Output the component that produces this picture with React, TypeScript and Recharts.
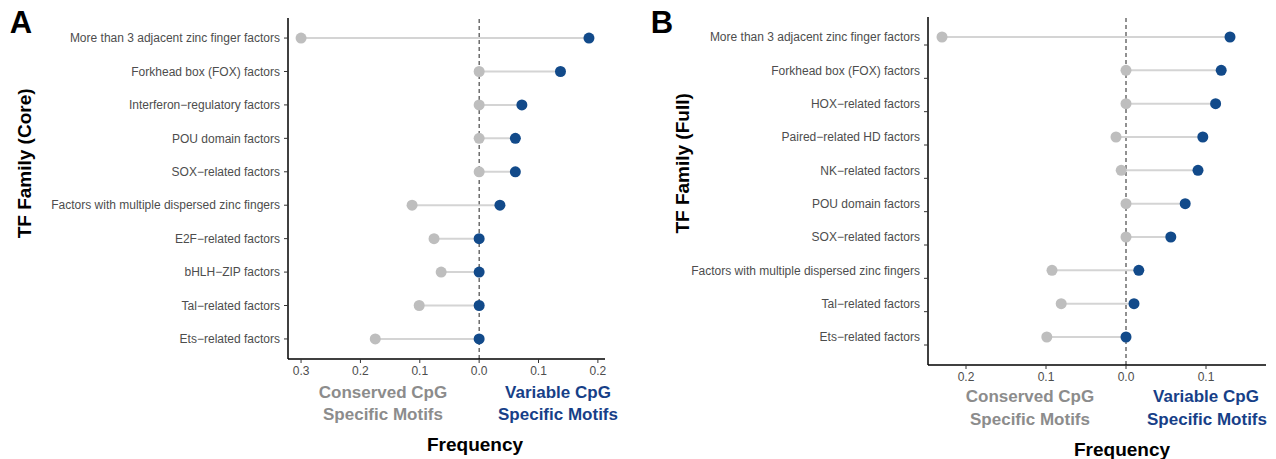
import { ReferenceLine, Scatter, ScatterChart, XAxis, YAxis } from 'recharts';
import type { CSSProperties, ReactNode } from 'react';

// Panel A: core TF families (frequency of motifs, conserved vs variable CpG)
const coreFamilies = [
  'More than 3 adjacent zinc finger factors',
  'Forkhead box (FOX) factors',
  'Interferon\u2212regulatory factors',
  'POU domain factors',
  'SOX\u2212related factors',
  'Factors with multiple dispersed zinc fingers',
  'E2F\u2212related factors',
  'bHLH\u2212ZIP factors',
  'Tal\u2212related factors',
  'Ets\u2212related factors',
];
const coreConserved = [0.3, 0, 0, 0, 0, 0.113, 0.076, 0.064, 0.101, 0.175];
const coreVariable = [0.185, 0.137, 0.072, 0.061, 0.061, 0.035, 0, 0, 0, 0];
const coreTicks = [-0.3, -0.2, -0.1, 0, 0.1, 0.2];

// Panel B: full TF families
const fullFamilies = [
  'More than 3 adjacent zinc finger factors',
  'Forkhead box (FOX) factors',
  'HOX\u2212related factors',
  'Paired\u2212related HD factors',
  'NK\u2212related factors',
  'POU domain factors',
  'SOX\u2212related factors',
  'Factors with multiple dispersed zinc fingers',
  'Tal\u2212related factors',
  'Ets\u2212related factors',
];
const fullConserved = [0.23, 0, 0, 0.0125, 0.006, 0, 0, 0.0925, 0.081, 0.099];
const fullVariable = [0.13, 0.119, 0.112, 0.096, 0.09, 0.074, 0.056, 0.016, 0.01, 0];
const fullTicks = [-0.2, -0.1, 0, 0.1];

const FONT = '"Liberation Sans", Arial, Helvetica, sans-serif';
const GREY_DOT = '#bebebe';
const BLUE_DOT = '#124a8a';
const SEGMENT = '#d4d4d4';
const CONSERVED_TEXT = '#8c8c8c';
const VARIABLE_TEXT = '#173f88';

interface PanelProps {
  families: string[];
  conserved: number[];
  variable: number[];
  ticks: number[];
  domain: [number, number];
  rowDomain: [number, number];
  width: number;
  marginTop: number;
  marginRight: number;
  marginBottom: number;
  tickShift?: number;
}

function LollipopPanel({
  families, conserved, variable, ticks, domain, rowDomain, width,
  marginTop, marginRight, marginBottom, tickShift = 0,
}: PanelProps) {
  const greyPoints = families.map((_, i) => ({ x: -conserved[i], y: i }));
  const bluePoints = families.map((_, i) => ({ x: variable[i], y: i }));
  const rowTicks = families.map((_, i) => i);

  return (
    <ScatterChart
      width={width}
      height={459}
      margin={{ top: marginTop, right: marginRight, bottom: marginBottom, left: 0 }}
    >
      <XAxis
        type="number"
        dataKey="x"
        domain={domain}
        ticks={ticks}
        allowDataOverflow
        tickFormatter={(v: number) => Math.abs(v).toFixed(1)}
        tick={{ fill: '#4d4d4d', fontSize: 12, fontFamily: FONT }}
        tickSize={4}
        tickMargin={3}
        axisLine={{ stroke: '#000', strokeWidth: 1.5 }}
        tickLine={{ stroke: '#333' }}
        height={30}
      />
      <YAxis
        type="number"
        dataKey="y"
        domain={rowDomain}
        ticks={rowTicks}
        interval={0}
        reversed
        allowDataOverflow
        width={288}
        tickFormatter={(i: number) => families[i] ?? ''}
        tick={{ fill: '#4d4d4d', fontSize: 12, fontFamily: FONT }}
        tickSize={4}
        tickMargin={4}
        axisLine={{ stroke: '#000', strokeWidth: 1.5 }}
        tickLine={{ stroke: '#333', transform: `translate(0,${tickShift})` }}
      />
      {families.map((name, i) => (
        <Scatter
          key={name}
          data={[greyPoints[i], bluePoints[i]]}
          line={{ stroke: SEGMENT, strokeWidth: 2 }}
          shape={() => <g />}
          isAnimationActive={false}
        />
      ))}
      <ReferenceLine x={0} stroke="#222" strokeDasharray="4 3" strokeWidth={1} />
      <Scatter data={greyPoints} fill={GREY_DOT} shape={(p: any) => <circle cx={p.cx} cy={p.cy} r={5.5} fill={GREY_DOT} />} isAnimationActive={false} />
      <Scatter data={bluePoints} fill={BLUE_DOT} shape={(p: any) => <circle cx={p.cx} cy={p.cy} r={5.5} fill={BLUE_DOT} />} isAnimationActive={false} />
    </ScatterChart>
  );
}

function Text({ x, y, children, size = 17, color = '#000', rotate = false }: {
  x: number; y: number; children: ReactNode; size?: number; color?: string; rotate?: boolean;
}) {
  const style: CSSProperties = {
    position: 'absolute',
    left: x - 150,
    top: y - size * 0.6,
    width: 300,
    textAlign: 'center',
    fontFamily: FONT,
    fontWeight: 'bold',
    fontSize: size,
    lineHeight: `${size * 1.2}px`,
    color,
    whiteSpace: 'nowrap',
    transform: rotate ? 'rotate(-90deg)' : undefined,
  };
  return <div style={style}>{children}</div>;
}

export default function App() {
  return (
    <div style={{ position: 'relative', width: 1276, height: 459, background: '#fff', overflow: 'hidden' }}>
      <style>{'body{margin:0}'}</style>
      <div style={{ position: 'absolute', left: 0, top: 0 }}>
        <LollipopPanel
          families={coreFamilies}
          conserved={coreConserved}
          variable={coreVariable}
          ticks={coreTicks}
          domain={[-0.322, 0.212]}
          rowDomain={[-0.6, 9.6]}
          width={638}
          marginTop={18}
          marginRight={33}
          marginBottom={70}
        />
      </div>
      <div style={{ position: 'absolute', left: 640, top: 0 }}>
        <LollipopPanel
          families={fullFamilies}
          conserved={fullConserved}
          variable={fullVariable}
          ticks={fullTicks}
          domain={[-0.2475, 0.175]}
          rowDomain={[-0.6, 9.84]}
          width={636}
          marginTop={17}
          marginRight={10}
          marginBottom={64}
          tickShift={8}
        />
      </div>

      <Text x={21} y={23} size={31}>A</Text>
      <Text x={25} y={163} size={19} rotate>TF Family (Core)</Text>
      <Text x={383} y={393} color={CONSERVED_TEXT}>Conserved CpG</Text>
      <Text x={383} y={415} color={CONSERVED_TEXT}>Specific Motifs</Text>
      <Text x={558} y={393} color={VARIABLE_TEXT}>Variable CpG</Text>
      <Text x={558} y={415} color={VARIABLE_TEXT}>Specific Motifs</Text>
      <Text x={475} y={445} size={19}>Frequency</Text>

      <Text x={662} y={23} size={31}>B</Text>
      <Text x={683} y={163} size={19} rotate>TF Family (Full)</Text>
      <Text x={1030} y={397} color={CONSERVED_TEXT}>Conserved CpG</Text>
      <Text x={1030} y={420} color={CONSERVED_TEXT}>Specific Motifs</Text>
      <Text x={1206} y={397} color={VARIABLE_TEXT}>Variable CpG</Text>
      <Text x={1207} y={420} color={VARIABLE_TEXT}>Specific Motifs</Text>
      <Text x={1122} y={450} size={19}>Frequency</Text>
    </div>
  );
}
